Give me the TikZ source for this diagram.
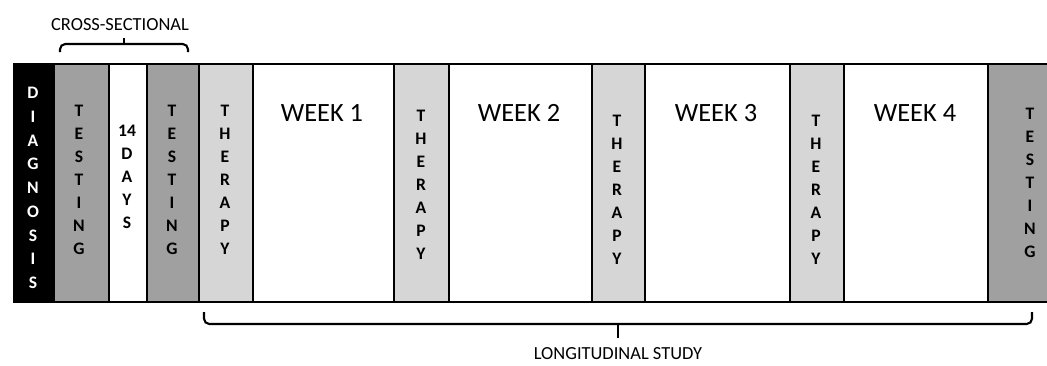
\documentclass[tikz,border=0pt]{standalone}
\usepackage{fontspec}
\setmainfont{Carlito}
\usetikzlibrary{positioning}
\definecolor{testgray}{RGB}{160,160,160}
\definecolor{theragray}{RGB}{214,214,214}
\tikzset{
    x=0.02cm, y=-0.02cm, semithick,
    col/.style = {rectangle, draw, line width=1.2pt, anchor=north west, inner sep=0pt, minimum height=4.76cm},
    letters/.style = {font=\bfseries\fontsize{10}{13.1}\selectfont, align=center, inner sep=0pt, anchor=north},
    week/.style = {font=\fontsize{15}{18}\selectfont, inner sep=0pt, anchor=north},
    lbl/.style = {font=\fontsize{10.5}{13}\selectfont, inner sep=0pt},
    bracket/.style = {line width=1.2pt, rounded corners=3pt}
}
\begin{document}
\begin{tikzpicture}
    \useasboundingbox (0,0) rectangle (1047,365);
    % columns
    \node[col, fill=black, minimum width=0.80cm] (diag) at (13,63) {};
    \node[col, fill=testgray, minimum width=1.10cm] (test1) at (53,63) {};
    \node[col, fill=white, minimum width=0.76cm] (days) at (108,63) {};
    \node[col, fill=testgray, minimum width=1.04cm] (test2) at (146,63) {};
    \node[col, fill=theragray, minimum width=1.08cm] (ther1) at (198,63) {};
    \node[col, fill=white, minimum width=2.82cm] (week1) at (252,63) {};
    \node[col, fill=theragray, minimum width=1.10cm] (ther2) at (393,63) {};
    \node[col, fill=white, minimum width=2.86cm] (week2) at (448,63) {};
    \node[col, fill=theragray, minimum width=1.06cm] (ther3) at (591,63) {};
    \node[col, fill=white, minimum width=2.90cm] (week3) at (644,63) {};
    \node[col, fill=theragray, minimum width=1.08cm] (ther4) at (789,63) {};
    \node[col, fill=white, minimum width=2.88cm] (week4) at (843,63) {};
    \node[col, fill=testgray, minimum width=1.26cm] (test3) at (987,63) {};

    % column texts
    \node[letters, white, font=\bfseries\fontsize{10}{13.5}\selectfont] (diagtxt) at (33,87) {D\\I\\A\\G\\N\\O\\S\\I\\S};
    \node[letters] (test1txt) at (79,105) {T\\E\\S\\T\\I\\N\\G};
    \node[letters] (daystxt) at (127,125) {14\\D\\A\\Y\\S};
    \node[letters] (test2txt) at (172,105) {T\\E\\S\\T\\I\\N\\G};
    \node[letters] (ther1txt) at (225,105) {T\\H\\E\\R\\A\\P\\Y};
    \node[letters] (ther2txt) at (421,110) {T\\H\\E\\R\\A\\P\\Y};
    \node[letters] (ther3txt) at (617,115) {T\\H\\E\\R\\A\\P\\Y};
    \node[letters] (ther4txt) at (816,115) {T\\H\\E\\R\\A\\P\\Y};
    \node[letters] (test3txt) at (1030,108) {T\\E\\S\\T\\I\\N\\G};
    \node[week] (w1) at (322,104) {WEEK 1};
    \node[week] (w2) at (519,104) {WEEK 2};
    \node[week] (w3) at (716,104) {WEEK 3};
    \node[week] (w4) at (915,104) {WEEK 4};

    % cross-sectional bracket
    \node[lbl] (cross) at (120,25) {CROSS-SECTIONAL};
    \coordinate (csl) at (60,52);
    \coordinate (csr) at (188,52);
    \coordinate (csh) at (124,44);
    \coordinate (csm) at (124,38);
    \draw[bracket] (csl) |- (csh) -| (csr);
    \draw[bracket] (csh) -- (csm);

    % longitudinal bracket
    \coordinate (lsl) at (204,312);
    \coordinate (lsr) at (1032,312);
    \coordinate (lsh) at (618,324);
    \coordinate (lsm) at (618,338);
    \draw[bracket] (lsl) |- (lsh) -| (lsr);
    \draw[bracket] (lsh) -- (lsm);
    \node[lbl] (longi) at (618,354) {LONGITUDINAL STUDY};
\end{tikzpicture}
\end{document}
